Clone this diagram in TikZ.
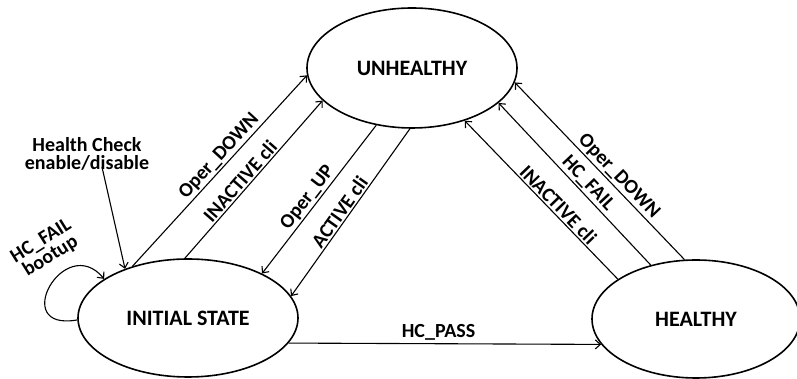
\documentclass[tikz,border=0pt]{standalone}
\usepackage{fontspec}
\setmainfont{Carlito}
\usetikzlibrary{shapes.geometric,arrows.meta}
\begin{document}
\begin{tikzpicture}[x=1pt,y=1pt,>={Straight Barb[length=5pt,width=9pt]},
	every node/.style={font=\bfseries\fontsize{20}{18}\selectfont},
	state/.style={ellipse,draw,line width=1.6pt,font=\bfseries\fontsize{22}{22}\selectfont},
	trans/.style={->,line width=1.1pt},
	lbl/.style={sloped,above,inner sep=1.5pt}]

	\useasboundingbox (0,0) rectangle (797,379);

	\node[state,minimum width=210pt,minimum height=120pt] (unhealthy) at (412,311) {UNHEALTHY};
	\node[state,minimum width=220pt,minimum height=118pt] (initial) at (188,61) {INITIAL STATE};
	\node[state,minimum width=208pt,minimum height=118pt] (healthy) at (696,60) {HEALTHY};
	\node[align=center] (hc) at (87,225) {Health Check\\enable/disable};

	% initial <-> unhealthy
	\draw[trans] (initial.137) to node[lbl,pos=0.54] {Oper\_DOWN} (unhealthy.184);
	\draw[trans] (initial.93) to node[lbl,pos=0.45] {INACTIVE cli} (unhealthy.200);
	\draw[trans] (unhealthy.238) to node[lbl,pos=0.53] {Oper\_UP} (initial.31);
	\draw[trans] (unhealthy.268) to node[lbl,pos=0.53] {ACTIVE cli} (initial.12);

	% healthy -> unhealthy
	\draw[trans] (healthy.101) to node[lbl,pos=0.43] {Oper\_DOWN} (unhealthy.-8);
	\draw[trans] (healthy.130) to node[lbl,pos=0.46] {HC\_FAIL} (unhealthy.-22);
	\draw[trans] (healthy.153) to node[lbl,pos=0.43] {INACTIVE cli} (unhealthy.-45);

	\draw[trans] (initial.-14) to node[above,pos=0.48] {HC\_PASS} (healthy.195);

	% self loop and health check
	\draw[trans] (initial.181) to[out=190,in=130,out distance=70pt,in distance=62pt] (initial.155);
	\node[rotate=32,align=center] (bootup) at (46,130) {HC\_FAIL\\bootup};
	\draw[trans] ([xshift=15pt,yshift=7pt]hc.south) to (initial.142);

\end{tikzpicture}
\end{document}
